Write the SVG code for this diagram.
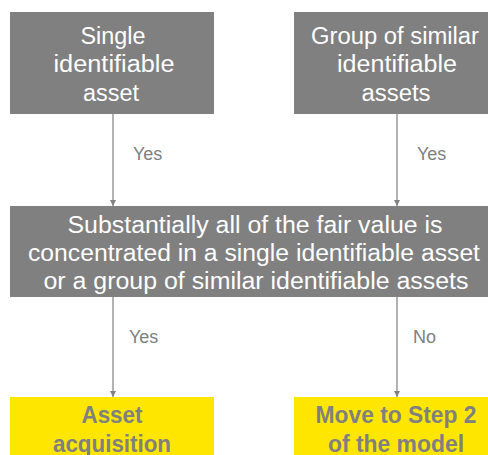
<svg xmlns="http://www.w3.org/2000/svg" width="488" height="455" viewBox="0 0 488 455">
<style>
.box{fill:#808080}
.ybox{fill:#FFE600}
.t{font-family:"Liberation Sans",Arial,sans-serif;font-size:23px;fill:#ffffff;text-anchor:middle}
.yt{font-family:"Liberation Sans",Arial,sans-serif;font-size:23px;font-weight:bold;fill:#808080;text-anchor:middle}
.lbl{font-family:"Liberation Sans",Arial,sans-serif;font-size:18px;fill:#808080}
.c{stroke:#808080;stroke-width:1.2;fill:none}
</style>
<defs>
<marker id="ah" viewBox="0 0 10 10" refX="10" refY="5" markerWidth="6" markerHeight="6" markerUnits="userSpaceOnUse" orient="auto">
<path d="M0,0 L10,5 L0,10 z" fill="#808080"/>
</marker>
</defs>
<rect width="488" height="455" fill="#ffffff"/>
<g id="single">
<rect class="box" x="10" y="12" width="204" height="102"/>
<text class="t" x="113" y="44" textLength="65" lengthAdjust="spacingAndGlyphs">Single</text>
<text class="t" x="114" y="72" textLength="121" lengthAdjust="spacingAndGlyphs">identifiable</text>
<text class="t" x="111" y="101" textLength="56" lengthAdjust="spacingAndGlyphs">asset</text>
</g>
<g id="group">
<rect class="box" x="294" y="12" width="204" height="102"/>
<text class="t" x="395" y="44" textLength="168" lengthAdjust="spacingAndGlyphs">Group of similar</text>
<text class="t" x="397" y="72" textLength="120" lengthAdjust="spacingAndGlyphs">identifiable</text>
<text class="t" x="396" y="101" textLength="69" lengthAdjust="spacingAndGlyphs">assets</text>
</g>
<g id="question">
<rect class="box" x="10" y="206" width="488" height="91"/>
<text class="t" x="255" y="233" textLength="375" lengthAdjust="spacingAndGlyphs">Substantially all of the fair value is</text>
<text class="t" x="254" y="261" textLength="452" lengthAdjust="spacingAndGlyphs">concentrated in a single identifiable asset</text>
<text class="t" x="256" y="289" textLength="425" lengthAdjust="spacingAndGlyphs">or a group of similar identifiable assets</text>
</g>
<g id="asset">
<rect class="ybox" x="10" y="397" width="204" height="60"/>
<text class="yt" x="112" y="423" textLength="61" lengthAdjust="spacingAndGlyphs">Asset</text>
<text class="yt" x="112" y="452" textLength="118" lengthAdjust="spacingAndGlyphs">acquisition</text>
</g>
<g id="step2">
<rect class="ybox" x="294" y="397" width="204" height="60"/>
<text class="yt" x="396" y="423" textLength="161" lengthAdjust="spacingAndGlyphs">Move to Step 2</text>
<text class="yt" x="396" y="452" textLength="136" lengthAdjust="spacingAndGlyphs">of the model</text>
</g>
<g id="connectors">
<line class="c" x1="113" y1="114" x2="113" y2="206" marker-end="url(#ah)"/>
<line class="c" x1="397" y1="114" x2="397" y2="206" marker-end="url(#ah)"/>
<line class="c" x1="113" y1="297" x2="113" y2="397" marker-end="url(#ah)"/>
<line class="c" x1="397" y1="297" x2="397" y2="397" marker-end="url(#ah)"/>
<text class="lbl" x="133" y="160">Yes</text>
<text class="lbl" x="417" y="160">Yes</text>
<text class="lbl" x="129" y="343">Yes</text>
<text class="lbl" x="413" y="343">No</text>
</g>
</svg>
